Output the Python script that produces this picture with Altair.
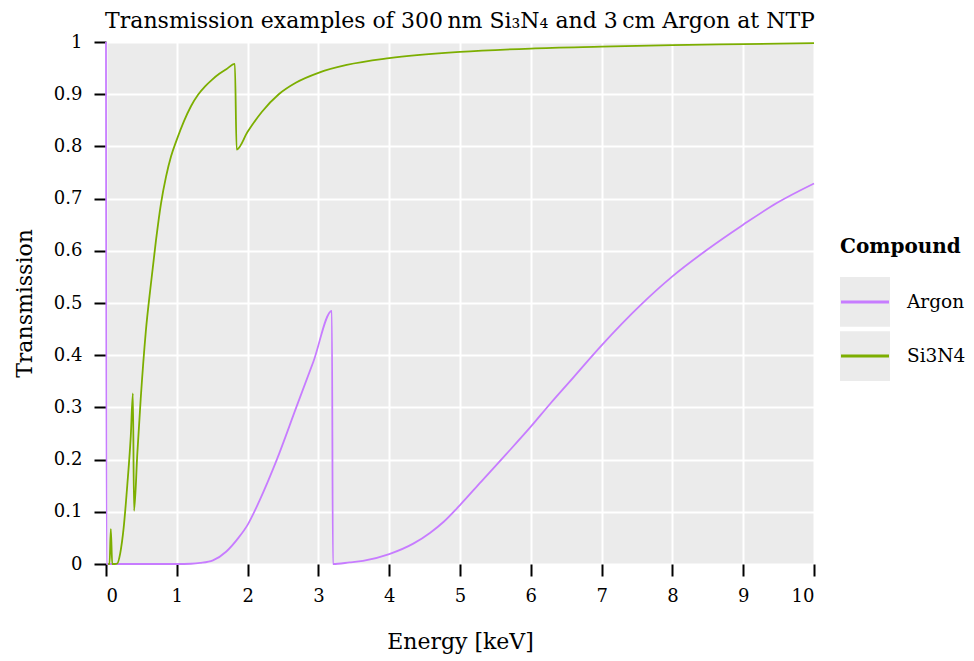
import altair as alt
import pandas as pd

# ---- data ----
argon_energy = [0.0, 0.008, 0.5, 1.0, 1.2, 1.33, 1.51, 1.70, 1.87, 2.0, 2.17, 2.41, 2.69, 2.93,
                3.19, 3.205, 3.44, 3.63, 4.0, 4.34, 4.58, 4.77, 5.0, 5.3, 5.65, 6.0, 6.28,
                6.54, 7.0, 7.55, 8.0, 8.49, 9.0, 9.48, 10.0]
argon_trans = [1.0, 0.0, 0.0, 0.0, 0.0005, 0.002, 0.007, 0.024, 0.05, 0.075, 0.122, 0.199, 0.301,
               0.388, 0.485, 0.0, 0.003, 0.006, 0.019, 0.039, 0.06, 0.081, 0.113, 0.158, 0.21,
               0.263, 0.308, 0.348, 0.419, 0.496, 0.551, 0.602, 0.65, 0.692, 0.729]

si3n4_energy = [0.03, 0.05, 0.068, 0.088, 0.12, 0.16, 0.2, 0.25, 0.3, 0.35, 0.38, 0.396, 0.443,
                0.49, 0.562, 0.633, 0.705, 0.776, 0.848, 0.919, 1.0, 1.1, 1.2, 1.3, 1.4, 1.5,
                1.6, 1.7, 1.82, 1.845, 2.0, 2.2, 2.44, 2.68, 3.0, 3.4, 4.0, 5.0, 6.0, 7.0, 8.0,
                9.0, 10.0]
si3n4_trans = [0.0, 0.0, 0.067, 0.0, 0.0, 0.001, 0.02, 0.07, 0.15, 0.245, 0.327, 0.102, 0.213,
               0.316, 0.445, 0.535, 0.619, 0.69, 0.742, 0.781, 0.813, 0.848, 0.877, 0.899, 0.915,
               0.928, 0.939, 0.948, 0.958, 0.794, 0.828, 0.866, 0.9, 0.922, 0.941, 0.956, 0.969,
               0.981, 0.9875, 0.991, 0.994, 0.996, 0.998]

compounds = ["Argon", "Si3N4"]
colors = ["#C77CFF", "#7CAE00"]
x_ticks = list(range(0, 11))
y_ticks = [0.0, 0.1, 0.2, 0.3, 0.4, 0.5, 0.6, 0.7, 0.8, 0.9, 1.0]

FONT = "DejaVu Serif"

df = pd.concat([
    pd.DataFrame({"Energy": argon_energy, "Transmission": argon_trans, "Compound": "Argon"}),
    pd.DataFrame({"Energy": si3n4_energy, "Transmission": si3n4_trans, "Compound": "Si3N4"}),
], ignore_index=True)

color_scale = alt.Scale(domain=compounds, range=colors)

main = alt.Chart(df).mark_line(strokeWidth=1.8, interpolate="monotone").encode(
    x=alt.X("Energy:Q", title="Energy [keV]",
            scale=alt.Scale(domain=[0, 10], nice=False, zero=False),
            axis=alt.Axis(values=x_ticks, format="d", labelPadding=11, titlePadding=26)),
    y=alt.Y("Transmission:Q", title="Transmission",
            scale=alt.Scale(domain=[0, 1], nice=False),
            axis=alt.Axis(values=y_ticks, format=".1~f", labelPadding=12, titlePadding=17)),
    color=alt.Color("Compound:N", scale=color_scale, legend=None),
).properties(
    width=708, height=522,
    view=alt.ViewBackground(fill="#EBEBEB", strokeWidth=0),
    title=alt.TitleParams(
        text="Transmission examples of 300\u2009nm Si\u2083N\u2084 and 3\u2009cm Argon at NTP",
        font=FONT, fontSize=22, fontWeight="normal", color="black", anchor="middle", offset=0),
)

# ---- hand-made legend (ggplot style keys with grey background) ----
leg_df = pd.DataFrame({"Compound": compounds})
band = alt.Scale(domain=compounds, range=[235, 339], paddingInner=0.08, paddingOuter=0)

keys = alt.Chart(leg_df).mark_rect(color="#EBEBEB").encode(
    x=alt.value(0), x2=alt.value(50),
    y=alt.Y("Compound:N", scale=band, axis=None),
)
lines = alt.Chart(leg_df).mark_rule(strokeWidth=3).encode(
    x=alt.value(1), x2=alt.value(49),
    y=alt.Y("Compound:N", scale=band, axis=None, bandPosition=0.5),
    color=alt.Color("Compound:N", scale=color_scale, legend=None),
)
labels = alt.Chart(leg_df).mark_text(align="left", baseline="middle", font=FONT,
                                     fontSize=18.5, color="black").encode(
    x=alt.value(67),
    y=alt.Y("Compound:N", scale=band, axis=None, bandPosition=0.5),
    text="Compound:N",
)
leg_title = alt.Chart(pd.DataFrame({"t": ["Compound"]})).mark_text(
    align="left", baseline="middle", font=FONT, fontSize=20, fontWeight="bold", color="black"
).encode(x=alt.value(0), y=alt.value(205), text="t:N")

legend = alt.layer(keys, lines, labels, leg_title).properties(
    width=118, height=400, view=alt.ViewBackground(strokeWidth=0))

chart = alt.hconcat(
    main, legend, spacing=21, background="white",
    padding={"left": 5, "top": 2, "right": 0, "bottom": 5},
).configure_view(
    strokeWidth=0
).configure_axis(
    domain=False,
    grid=True, gridColor="white", gridWidth=2,
    tickColor="black", tickWidth=2, tickSize=12,
    labelFont=FONT, labelFontSize=18, labelColor="black",
    titleFont=FONT, titleFontSize=22, titleFontWeight="normal", titleColor="black",
)

chart.save("out.html", embed_options={"renderer": "svg", "actions": False})
